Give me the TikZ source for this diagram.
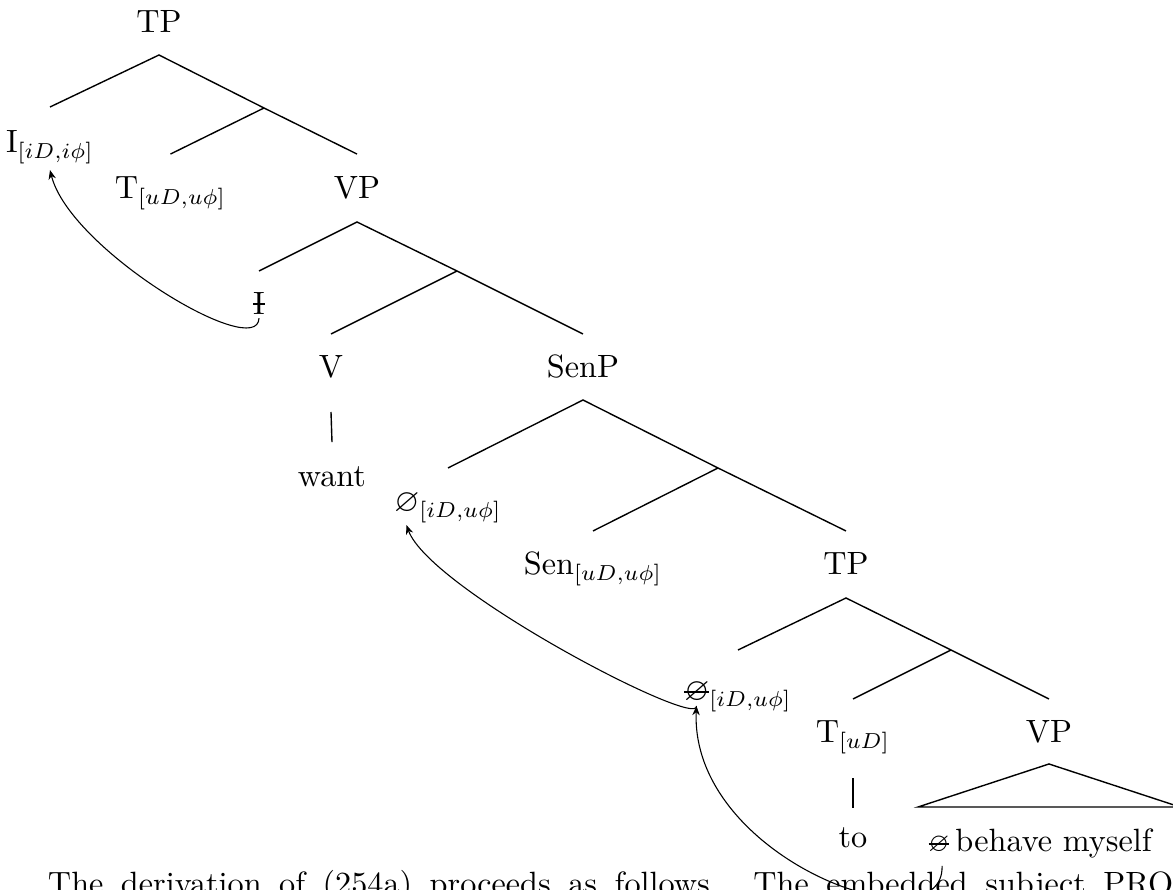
\documentclass[tikz,border=0pt]{standalone}
\usepackage{amssymb}
\usepackage{graphicx}
\usetikzlibrary{arrows.meta,calc}
\newcommand\struck[2][0.5]{\setbox0=\hbox{#2}\rlap{\raisebox{#1\ht0}{\rule[-0.3pt]{\wd0}{0.6pt}}}\box0}
\begin{document}
\begin{tikzpicture}[x=0.3226pt,y=-0.3226pt,
  lab/.style={inner sep=0pt,outer sep=0pt,anchor=base,font=\fontsize{10.4}{12.5}\selectfont},
  edge/.style={line width=0.45pt},
  mv/.style={line width=0.35pt,-{Stealth[length=3pt,width=2.4pt]}}]
\useasboundingbox (0,0) rectangle (1173,890);
\clip (0,0) rectangle (1173,890);
% nodes
\node[lab,text depth=7.1pt] (TPa) at (159,33) {TP};
\node[lab,text height=14.84pt,text depth=5.5pt] (I) at (50,153) {I$_{[iD,i\phi]}$};
\coordinate (Tba) at (264,108);
\node[lab,text height=14.5pt] (T) at (170.5,199) {T$_{[uD,u\phi]}$};
\node[lab,text height=14.5pt,text depth=7.42pt] (VPa) at (357,199) {VP};
\node[lab,text height=14.2pt,text depth=1pt] (It) at (259,315) {\struck{I}};
\coordinate (Vb) at (457,271);
\node[lab,text height=14.2pt,text depth=10.97pt] (V) at (331,378) {V};
\node[lab,text height=14.2pt,text depth=7.1pt] (SenP) at (583,378) {SenP};
\node[lab,text height=14.5pt] (want) at (332,487) {want};
\node[lab,text height=14.2pt,text depth=4.2pt] (Zi) at (448,512) {$\varnothing_{[iD,u\phi]}$};
\coordinate (Senb) at (718,468);
\node[lab,text height=14.2pt] (Sen) at (593,575) {Sen$_{[uD,u\phi]}$};
\node[lab,text height=14.2pt,text depth=7.42pt] (TPb) at (846,575) {TP};
\node[lab,text height=16.45pt,text depth=1.6pt] (Zt) at (738,701) {${\struck{$\varnothing$}}_{[iD,u\phi]}$};
\coordinate (Tbb) at (951,650);
\node[lab,text height=14.2pt,text depth=11.3pt] (T2) at (853,743) {T$_{[uD]}$};
\node[lab,text height=14.2pt,text depth=6.77pt] (VPb) at (1049,743) {VP};
\node[lab,text height=12.9pt] (to) at (853,848) {to};
\coordinate (rl) at (918,807);
\coordinate (rr) at (1180,807);
\node[lab,text depth=4.5pt] (rz) at (939,852) {\struck{\scalebox{0.82}{$\varnothing$}}};
\node[lab,anchor=base west] (bm) at ([xshift=2pt]rz.base east) {behave myself};
\node[lab,anchor=base west] (prose) at (48,895) {\makebox[363pt][s]{The derivation of (254a) proceeds as follows. The embedded subject PRO}};
% tree edges
\draw[edge] (I.north) -- (TPa.south) -- (Tba) -- (VPa.north);
\draw[edge] (Tba) -- (T.north);
\draw[edge] (It.north) -- (VPa.south) -- (Vb) -- (SenP.north);
\draw[edge] (Vb) -- (V.north);
\draw[edge] (V.south) -- (want.north);
\draw[edge] (Zi.north) -- (SenP.south) -- (Senb) -- (TPb.north);
\draw[edge] (Senb) -- (Sen.north);
\draw[edge] (Zt.north) -- (TPb.south) -- (Tbb) -- (VPb.north);
\draw[edge] (Tbb) -- (T2.north);
\draw[edge] (T2.south) -- (to.north);
\draw[edge] (VPb.south) -- (rl) -- (rr) -- cycle;
% movement arrows
\draw[mv] (It.south) .. controls (258,362) and (70,250) .. (I.south);
\draw[mv] ([xshift=3.9pt]Zt.south west) .. controls (700,730) and (430,590) .. ([xshift=3.9pt]Zi.south west);
\draw[mv] ([xshift=1pt]rz.south) .. controls (944,950) and (690,860) .. ([xshift=3.9pt]Zt.south west);
\end{tikzpicture}
\end{document}
